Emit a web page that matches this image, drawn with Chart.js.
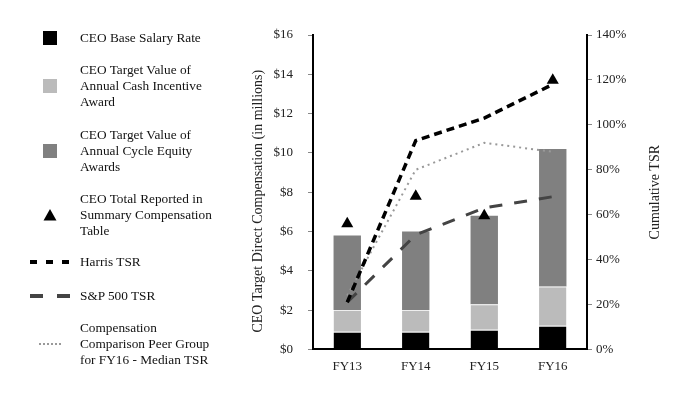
<!DOCTYPE html>
<html><head><meta charset="utf-8">
<script src="https://cdn.jsdelivr.net/npm/chart.js@4"></script>
<style>
html,body{margin:0;padding:0;background:#fff;}
#wrap{position:relative;width:690px;height:396px;font-family:"Liberation Serif","Times New Roman",serif;overflow:hidden;}
#c{position:absolute;left:0;top:0;}
.lg{position:absolute;left:80px;font-size:13.3px;line-height:16px;color:#111;white-space:nowrap;}
.mk{position:absolute;left:0;}
</style></head><body>
<div id="wrap"><canvas id="c" width="690" height="396"></canvas><div id="legend"></div></div>
<script>
// ---- data ----
const categories = ['FY13', 'FY14', 'FY15', 'FY16'];
const baseSalary = [0.9, 0.9, 1.0, 1.2];
const cashIncentive = [1.1, 1.1, 1.3, 2.0];
const equityAwards = [3.8, 4.0, 4.5, 7.0];
const totalReported = [6.4, 7.8, 6.8, 13.7];
const harrisTSR = [21, 93, 103, 118];
const sp500TSR = [21, 51, 63, 68];
const peerMedianTSR = [24, 80, 92, 88];
const compTickValues = [0, 2, 4, 6, 8, 10, 12, 14, 16];
const tsrTickValues = [0, 20, 40, 60, 80, 100, 120, 140];

const seriesLabels = {
  base: ['CEO Base Salary Rate'],
  cash: ['CEO Target Value of', 'Annual Cash Incentive', 'Award'],
  equity: ['CEO Target Value of', 'Annual Cycle Equity', 'Awards'],
  total: ['CEO Total Reported in', 'Summary Compensation', 'Table'],
  harris: ['Harris TSR'],
  sp: ['S&P 500 TSR'],
  peer: ['Compensation', 'Comparison Peer Group', 'for FY16 - Median TSR']
};
const leftTitle = 'CEO Target Direct Compensation (in millions)';
const rightTitle = 'Cumulative TSR';

// ---- styles ----
const FONT = '"Liberation Serif", "Times New Roman", serif';
const C_BASE = '#000000', C_CASH = '#bbbbbb', C_EQUITY = '#808080';

// ---- legend (HTML) ----
const legendLayout = [
  {key:'base', y:38, mk:'square', color:C_BASE},
  {key:'cash', y:86, mk:'square', color:C_CASH},
  {key:'equity', y:151, mk:'square', color:C_EQUITY},
  {key:'total', y:215, mk:'triangle', color:'#000'},
  {key:'harris', y:262, mk:'line', color:'#000', w:4, dash:'7,9', x1:30, x2:71},
  {key:'sp', y:296, mk:'line', color:'#444', w:4, dash:'13,14', x1:30, x2:71},
  {key:'peer', y:344, mk:'line', color:'#999', w:2, dash:'2,2', x1:39, x2:62}
];
const legend = document.getElementById('legend');
legendLayout.forEach(it => {
  const lines = seriesLabels[it.key];
  const d = document.createElement('div');
  d.className = 'lg';
  d.style.top = (it.y - lines.length * 8) + 'px';
  lines.forEach((t, i) => { if (i) d.appendChild(document.createElement('br')); d.appendChild(document.createTextNode(t)); });
  legend.appendChild(d);
  let svg = '';
  if (it.mk === 'square') svg = `<rect x="43" y="${it.y-7}" width="14" height="14" fill="${it.color}"/>`;
  else if (it.mk === 'triangle') svg = `<polygon points="50,${it.y-6} 56.5,${it.y+5.5} 43.5,${it.y+5.5}" fill="${it.color}"/>`;
  else svg = `<line x1="${it.x1}" y1="${it.y}" x2="${it.x2}" y2="${it.y}" stroke="${it.color}" stroke-width="${it.w}" stroke-dasharray="${it.dash}"/>`;
  const s = document.createElement('div');
  s.className = 'mk';
  s.innerHTML = `<svg width="80" height="396" style="position:absolute;left:0;top:0">${svg}</svg>`;
  legend.appendChild(s);
});

// ---- axis titles drawn rotated (both read bottom-to-top) ----
const axisTitles = {
  id: 'axisTitles',
  afterDraw(chart) {
    const {ctx, chartArea} = chart;
    ctx.save();
    ctx.fillStyle = '#222';
    ctx.font = '14px ' + FONT;
    ctx.textAlign = 'center';
    ctx.textBaseline = 'middle';
    const cy = (chartArea.top + chartArea.bottom) / 2;
    [[258, cy + 9, leftTitle], [655, cy, rightTitle]].forEach(([x, y, t]) => {
      ctx.save();
      ctx.translate(x, y);
      ctx.rotate(-Math.PI / 2);
      ctx.fillText(t, 0, 0);
      ctx.restore();
    });
    ctx.restore();
  }
};

// ---- chart ----
const tickFont = {family: FONT, size: 13};
new Chart(document.getElementById('c'), {
  data: {
    labels: categories,
    datasets: [
      {type:'line', label:seriesLabels.total.join(' '), data: totalReported, yAxisID:'y', stack:'tri',
       showLine:false, pointStyle:'triangle', pointRadius:7, pointBackgroundColor:'#000', pointBorderColor:'#000', pointBorderWidth:0, order:0},
      {type:'line', label:seriesLabels.harris.join(' '), data: harrisTSR, yAxisID:'y2', borderColor:'#000', borderWidth:3.5,
       borderDash:[8,5], pointRadius:0, tension:0, fill:false, order:1},
      {type:'line', label:seriesLabels.sp.join(' '), data: sp500TSR, yAxisID:'y2', borderColor:'#444', borderWidth:3,
       borderDash:[13,12], pointRadius:0, tension:0, fill:false, order:2},
      {type:'line', label:seriesLabels.peer.join(' '), data: peerMedianTSR, yAxisID:'y2', borderColor:'#999', borderWidth:2,
       borderDash:[2,4], pointRadius:0, tension:0, fill:false, order:3},
      {type:'bar', label:seriesLabels.base.join(' '), data: baseSalary, backgroundColor:C_BASE, stack:'comp', yAxisID:'y',
       barPercentage:0.4, categoryPercentage:1, borderColor:'#eee', borderWidth:{top:1,left:0,right:0,bottom:0}, order:10},
      {type:'bar', label:seriesLabels.cash.join(' '), data: cashIncentive, backgroundColor:C_CASH, stack:'comp', yAxisID:'y',
       barPercentage:0.4, categoryPercentage:1, borderColor:'#eee', borderWidth:{top:1,left:0,right:0,bottom:0}, order:10},
      {type:'bar', label:seriesLabels.equity.join(' '), data: equityAwards, backgroundColor:C_EQUITY, stack:'comp', yAxisID:'y',
       barPercentage:0.4, categoryPercentage:1, borderWidth:0, order:10}
    ]
  },
  options: {
    responsive:false, animation:false, devicePixelRatio:1,
    layout:{padding:{left:246, right:23, top:35, bottom:21}},
    plugins:{legend:{display:false}, tooltip:{enabled:false}},
    scales:{
      x:{stacked:true, offset:true, grid:{display:false}, border:{color:'#000', width:2},
         ticks:{font:tickFont, color:'#222', padding:1}},
      y:{position:'left', stacked:true, min:0, max:16,
         afterBuildTicks(s){ s.ticks = compTickValues.map(v => ({value:v})); },
         ticks:{font:tickFont, color:'#222', padding:15, callback:v => '$' + v},
         grid:{drawOnChartArea:false, drawTicks:true, tickLength:5, color:'#888'},
         border:{color:'#000', width:2},
         title:{display:false, text:leftTitle},
         afterFit(s){ s.width = 67; }},
      y2:{position:'right', min:0, max:140,
         afterBuildTicks(s){ s.ticks = tsrTickValues.map(v => ({value:v})); },
         ticks:{font:tickFont, color:'#222', padding:4, callback:v => v + '%'},
         grid:{drawOnChartArea:false, drawTicks:true, tickLength:5, color:'#888'},
         border:{color:'#000', width:2},
         title:{display:false, text:rightTitle},
         afterFit(s){ s.width = 80; }}
    }
  },
  plugins:[axisTitles]
});
</script>
</body></html>
